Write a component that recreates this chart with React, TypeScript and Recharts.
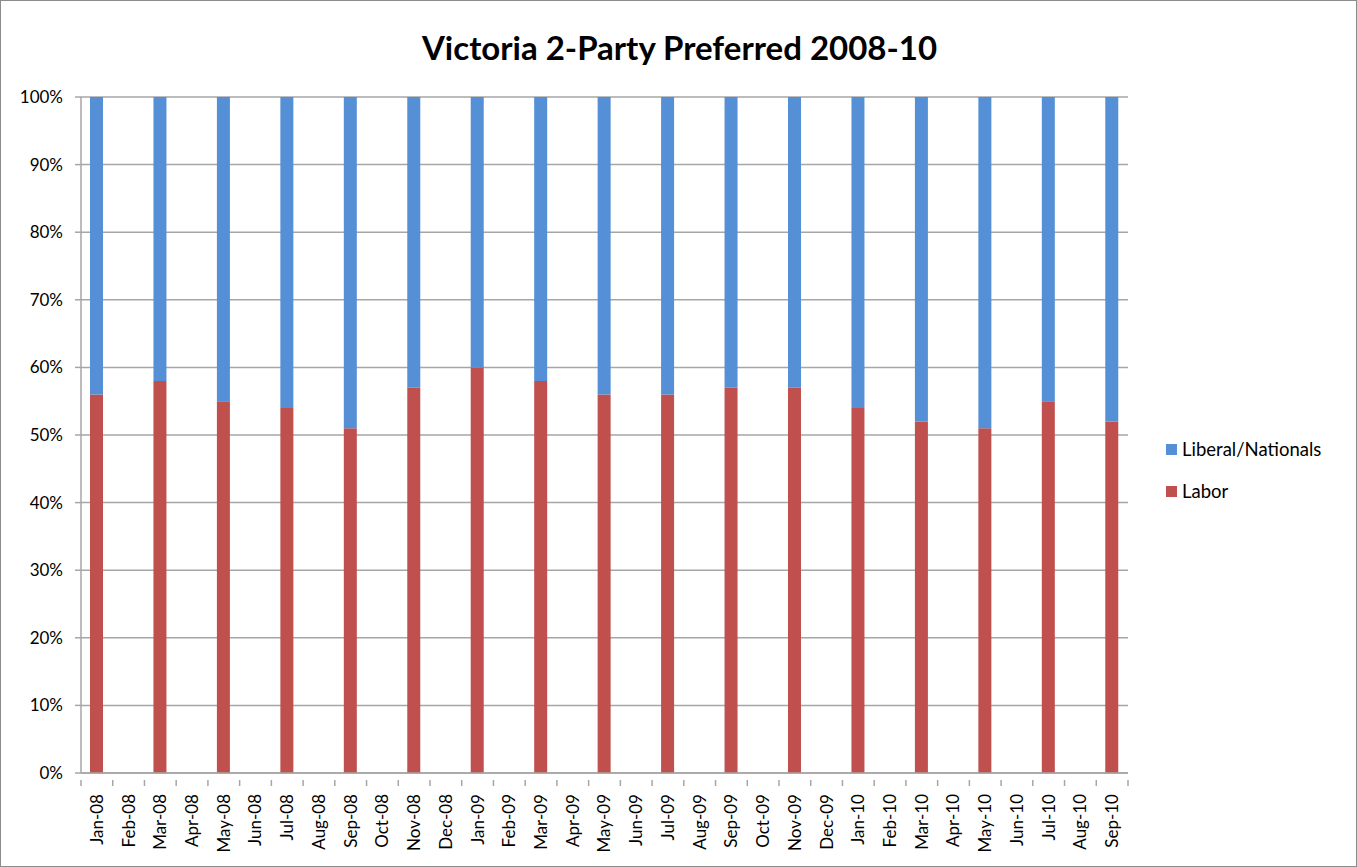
import React from 'react';
import { BarChart, Bar, XAxis, YAxis, CartesianGrid } from 'recharts';

const months = [
  'Jan-08','Feb-08','Mar-08','Apr-08','May-08','Jun-08','Jul-08','Aug-08','Sep-08','Oct-08','Nov-08','Dec-08',
  'Jan-09','Feb-09','Mar-09','Apr-09','May-09','Jun-09','Jul-09','Aug-09','Sep-09','Oct-09','Nov-09','Dec-09',
  'Jan-10','Feb-10','Mar-10','Apr-10','May-10','Jun-10','Jul-10','Aug-10','Sep-10',
];
const labor: (number | null)[] = [
  56, null, 58, null, 55, null, 54, null, 51, null, 57, null,
  60, null, 58, null, 56, null, 56, null, 57, null, 57, null,
  54, null, 52, null, 51, null, 55, null, 52,
];
const liberal: (number | null)[] = [
  44, null, 42, null, 45, null, 46, null, 49, null, 43, null,
  40, null, 42, null, 44, null, 44, null, 43, null, 43, null,
  46, null, 48, null, 49, null, 45, null, 48,
];
const yTicks = [0, 10, 20, 30, 40, 50, 60, 70, 80, 90, 100];
const legendItems = ['Liberal/Nationals', 'Labor'];

const data = months.map((m, i) => ({ month: m, labor: labor[i], liberal: liberal[i] }));

const FONT = 'Lato, "Open Sans", sans-serif';
const BLUE = '#558FD6';
const RED = '#C0504E';
const GRID = '#a6a6a6';

const XTick = (props: any) => {
  const { x, y, payload, index } = props;
  const half = 1047 / 33 / 2;
  const isLast = index === months.length - 1;
  return (
    <g>
      <line x1={x - half} x2={x - half} y1={y - 1} y2={y + 5} stroke={GRID} strokeWidth={1.5} />
      {isLast && <line x1={x + half} x2={x + half} y1={y - 1} y2={y + 5} stroke={GRID} strokeWidth={1.5} />}
      <text
        x={x}
        y={y + 13}
        transform={`rotate(-90, ${x}, ${y + 13})`}
        textAnchor="end"
        dy="0.35em"
        fontSize={17}
        fontFamily={FONT}
        fill="#000"
      >
        {payload.value}
      </text>
    </g>
  );
};

export default function App() {
  const colors = [BLUE, RED];
  return (
    <div
      style={{
        position: 'absolute',
        left: 0,
        top: 0,
        width: 1357,
        height: 867,
        border: '1px solid #8c8c8c',
        boxSizing: 'border-box',
        background: '#fff',
      }}
    >
      <div
        style={{
          position: 'absolute',
          left: 0,
          top: 24,
          width: 1357,
          textAlign: 'center',
          fontFamily: FONT,
          fontWeight: 700,
          fontSize: 33,
          lineHeight: '44px',
          color: '#000',
        }}
      >
        Victoria 2-Party Preferred 2008-10
      </div>
      <div style={{ position: 'absolute', left: -1, top: -1 }}>
        <BarChart
          width={1357}
          height={867}
          data={data}
          margin={{ top: 97, right: 229, bottom: 0, left: 0 }}
          barSize={13}
        >
          <CartesianGrid vertical={false} stroke={GRID} strokeWidth={1.5} />
          <XAxis
            dataKey="month"
            interval={0}
            tickLine={false}
            axisLine={{ stroke: GRID, strokeWidth: 1.5 }}
            tick={<XTick />}
            height={94}
          />
          <YAxis
            width={81}
            domain={[0, 100]}
            ticks={yTicks}
            tickFormatter={(v: number) => `${v}%`}
            axisLine={{ stroke: GRID, strokeWidth: 1.5 }}
            tickLine={{ stroke: GRID, strokeWidth: 1.5 }}
            tickSize={6}
            tickMargin={12}
            tick={{ fontSize: 17, fontFamily: FONT, fill: '#000' }}
            allowDataOverflow
          />
          <Bar dataKey="labor" stackId="a" fill={RED} isAnimationActive={false} />
          <Bar dataKey="liberal" stackId="a" fill={BLUE} isAnimationActive={false} />
        </BarChart>
      </div>
      <div style={{ position: 'absolute', left: 1165, top: 435, fontFamily: FONT, fontSize: 18.5, color: '#000' }}>
        {legendItems.map((t, i) => (
          <div key={t} style={{ display: 'flex', alignItems: 'center', height: 26, marginBottom: i === 0 ? 16 : 0 }}>
            <span style={{ display: 'inline-block', width: 11, height: 11, background: colors[i], marginRight: 5 }} />
            <span>{t}</span>
          </div>
        ))}
      </div>
    </div>
  );
}
